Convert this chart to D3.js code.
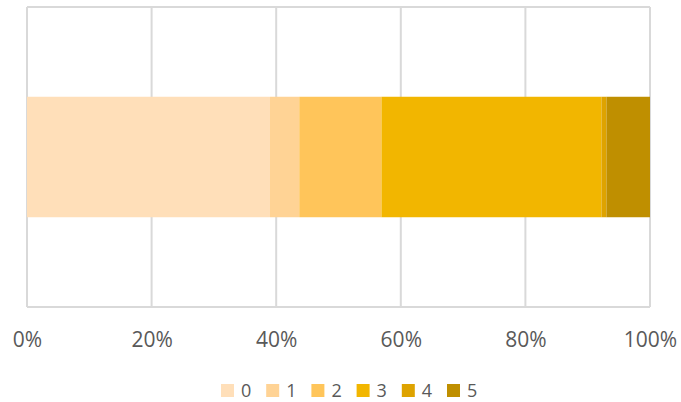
<!DOCTYPE html>
<html>
<head>
<meta charset="utf-8">
<script src="https://cdn.jsdelivr.net/npm/d3@7"></script>
<style>
  html, body { margin: 0; padding: 0; background: #fff; }
  svg { display: block; }
  text { font-family: "Open Sans", "Noto Sans", sans-serif; fill: #595959; }
</style>
</head>
<body>
<svg id="chart" width="681" height="402"></svg>
<script>
// Share of responses by score (percent of total)
const categories = ["0", "1", "2", "3", "4", "5"];
const shares = [39.0, 4.7, 13.2, 35.3, 0.8, 7.0];
const colors = ["#FFDFB9", "#FFD395", "#FFC55A", "#F2B600", "#DEA300", "#BF8F00"];
const tickValues = [0, 0.2, 0.4, 0.6, 0.8, 1.0];

const svg = d3.select("#chart");
const plot = { left: 27, right: 650, top: 7, bottom: 307 };

const total = d3.sum(shares);
const x = d3.scaleLinear().domain([0, 1]).range([plot.left, plot.right]);
const y = d3.scaleBand().domain(["all"]).range([plot.top, plot.bottom]).paddingInner(0).paddingOuter(0.745);

// Stack the shares into cumulative segments
const stackData = [Object.fromEntries(categories.map((c, i) => [c, shares[i] / total]))];
const series = d3.stack().keys(categories)(stackData);

// Vertical gridlines (including the plot frame edges)
svg.append("g")
  .selectAll("line")
  .data(tickValues)
  .join("line")
  .attr("x1", d => x(d)).attr("x2", d => x(d))
  .attr("y1", plot.top).attr("y2", plot.bottom)
  .attr("stroke", "#d9d9d9").attr("stroke-width", 2);

// Top and bottom frame edges
svg.append("g")
  .selectAll("line")
  .data([plot.top, plot.bottom])
  .join("line")
  .attr("x1", plot.left).attr("x2", plot.right)
  .attr("y1", d => d).attr("y2", d => d)
  .attr("stroke", "#d9d9d9").attr("stroke-width", 2);

// Stacked bar segments
svg.append("g")
  .selectAll("rect")
  .data(series)
  .join("rect")
  .attr("x", s => x(s[0][0]))
  .attr("width", s => x(s[0][1]) - x(s[0][0]))
  .attr("y", y("all"))
  .attr("height", y.bandwidth())
  .attr("fill", (s, i) => colors[i]);

// Bottom axis labels
const axis = d3.axisBottom(x).tickValues(tickValues).tickFormat(d3.format(".0%")).tickSize(0).tickPadding(0);
const axisG = svg.append("g").attr("transform", `translate(0, 347)`).call(axis);
axisG.select(".domain").remove();
axisG.selectAll("text")
  .attr("dy", 0)
  .attr("y", 0)
  .style("font-size", "21px")
  .attr("fill", "#595959");

// Legend
const legendX = d3.scalePoint().domain(categories).range([221, 447]);
const legend = svg.append("g")
  .selectAll("g")
  .data(categories)
  .join("g")
  .attr("transform", d => `translate(${legendX(d)}, 384)`);
legend.append("rect")
  .attr("width", 13).attr("height", 13)
  .attr("fill", (d, i) => colors[i]);
legend.append("text")
  .attr("x", 20).attr("y", 13)
  .style("font-size", "18px")
  .text(d => d);
</script>
</body>
</html>
